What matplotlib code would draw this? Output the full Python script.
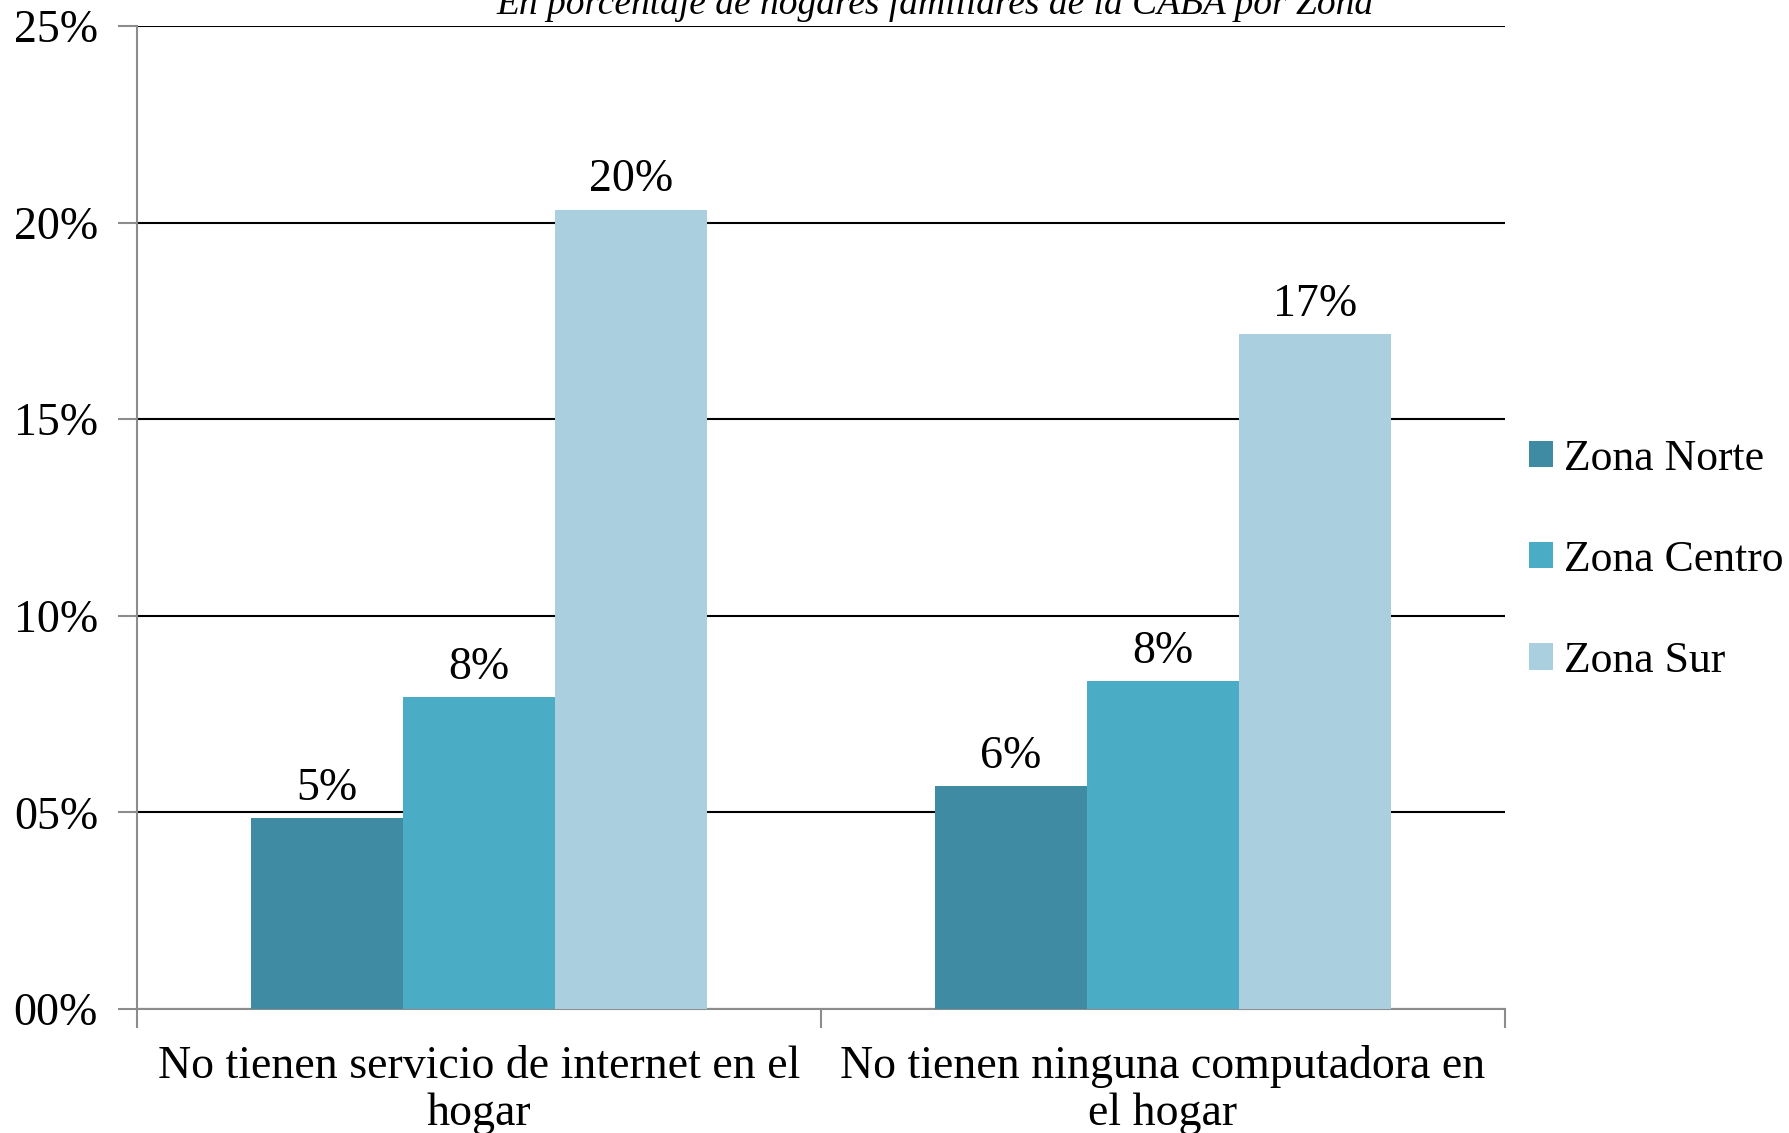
import matplotlib.pyplot as plt
import numpy as np

categorias = ["No tienen servicio de internet en el\nhogar",
              "No tienen ninguna computadora en\nel hogar"]
zonas = ["Zona Norte", "Zona Centro", "Zona Sur"]
norte = [0.0485, 0.0566]
centro = [0.0793, 0.0833]
sur = [0.2033, 0.1716]
etiquetas = [["5%", "6%"], ["8%", "8%"], ["20%", "17%"]]
colores = ["#3E8BA3", "#4BACC6", "#AACFDE"]
titulo = "En porcentaje de hogares familiares de la CABA por Zona"

plt.rcParams["font.family"] = ["Liberation Serif", "DejaVu Serif"]

fig = plt.figure(figsize=(17.89, 11.33), dpi=100)
ax = fig.add_axes([137 / 1789, 1 - 1009 / 1133, (1505 - 137) / 1789, (1009 - 26) / 1133])

x = np.arange(len(categorias))
ancho = 0.222
for i, (serie, nombre) in enumerate(zip([norte, centro, sur], zonas)):
    barras = ax.bar(x + (i - 1) * ancho, serie, ancho, color=colores[i], label=nombre, zorder=3)
    ax.bar_label(barras, labels=etiquetas[i], padding=6, fontsize=33)

ax.set_xlim(-0.5, 1.5)
ax.set_ylim(0, 0.25)
ax.set_yticks([0, 0.05, 0.10, 0.15, 0.20, 0.25])
ax.set_yticklabels(["00%", "05%", "10%", "15%", "20%", "25%"], fontsize=33)
ax.yaxis.grid(True, color="black", linewidth=1.5, zorder=0)
ax.tick_params(axis="y", length=14, color="#8c8c8c", width=1.5, pad=14)

ax.set_xticks(x)
ax.set_xticklabels(categorias, fontsize=33, linespacing=1.15)
ax.tick_params(axis="x", length=0, pad=26)
ax.set_xticks([-0.5, 0.5, 1.5], minor=True)
ax.tick_params(axis="x", which="minor", length=14, color="#8c8c8c", width=1.5)

for lado in ["top", "right"]:
    ax.spines[lado].set_visible(False)
for lado in ["left", "bottom"]:
    ax.spines[lado].set_color("#8c8c8c")
    ax.spines[lado].set_linewidth(1.5)

ax.legend(loc="center left", bbox_to_anchor=(1.0175, 0.457), frameon=False, fontsize=31.5,
          handlelength=0.55, handleheight=0.55, handletextpad=0.25, labelspacing=1.4,
          borderaxespad=0, borderpad=0)

fig.text(935 / 1789, 1 - 4 / 1133, titulo, ha="center", va="center",
         fontsize=27, style="italic")

fig.savefig("out.png", dpi=100)
